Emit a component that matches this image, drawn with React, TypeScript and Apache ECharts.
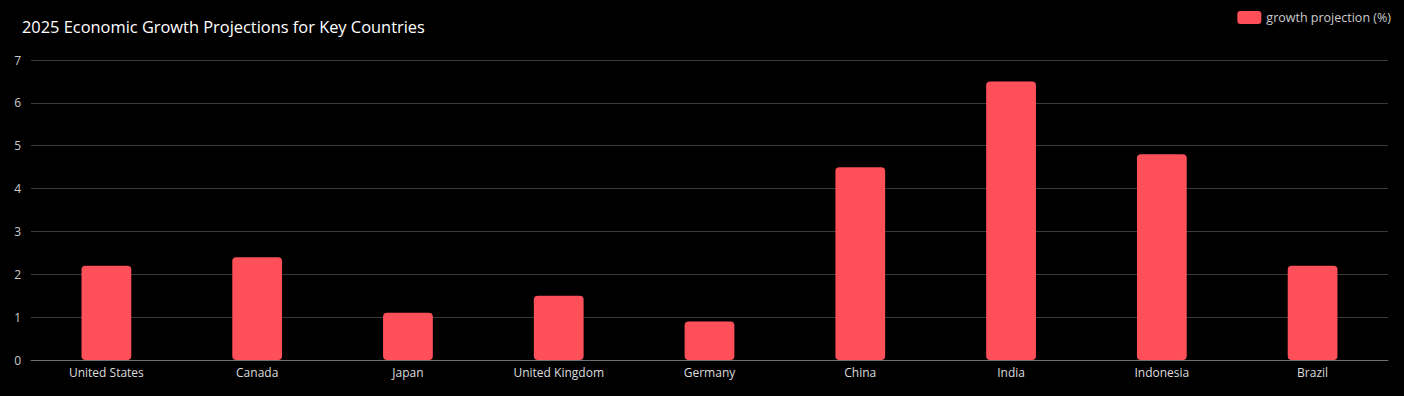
import React, { useEffect, useRef } from "react";
import * as echarts from "echarts";

const categories = ["United States", "Canada", "Japan", "United Kingdom", "Germany", "China", "India", "Indonesia", "Brazil"];
const growthValues = [2.2, 2.4, 1.1, 1.5, 0.9, 4.5, 6.5, 4.8, 2.2];
const seriesName = "growth projection (%)";
const titleText = "2025 Economic Growth Projections for Key Countries";

export default function App() {
  const ref = useRef<HTMLDivElement>(null);
  useEffect(() => {
    document.body.style.margin = "0";
    document.body.style.background = "#000";
    if (!ref.current) return;
    const chart = echarts.init(ref.current, null, { renderer: "svg" });
    chart.setOption({
      animation: false,
      backgroundColor: "#000",
      textStyle: { fontFamily: "'Open Sans', 'Noto Sans', sans-serif" },
      title: {
        text: titleText,
        left: 17,
        top: 13,
        textStyle: { color: "#fff", fontSize: 16.4, fontWeight: "normal" },
      },
      legend: {
        right: 8,
        top: 6,
        itemWidth: 24,
        itemHeight: 13,
        itemGap: 10,
        textStyle: { color: "#ccc", fontSize: 12.5 },
        data: [seriesName],
      },
      grid: { left: 31, right: 16, top: 60, bottom: 36 },
      xAxis: {
        type: "category",
        data: categories,
        axisLine: { lineStyle: { color: "#6E7079" } },
        axisTick: { lineStyle: { color: "#6E7079" } },
        axisLabel: { color: "#ddd", fontSize: 12, margin: 6 },
      },
      yAxis: {
        type: "value",
        min: 0,
        max: 7,
        interval: 1,
        axisLabel: { color: "#ccc", fontSize: 12, margin: 10 },
        splitLine: { lineStyle: { color: "#3a3a3a" } },
      },
      series: [
        {
          name: seriesName,
          type: "bar",
          data: growthValues,
          barWidth: "33%",
          itemStyle: { color: "#ff505a", borderRadius: 4 },
        },
      ],
    });
    return () => chart.dispose();
  }, []);
  return <div ref={ref} style={{ width: 1404, height: 396 }} />;
}
